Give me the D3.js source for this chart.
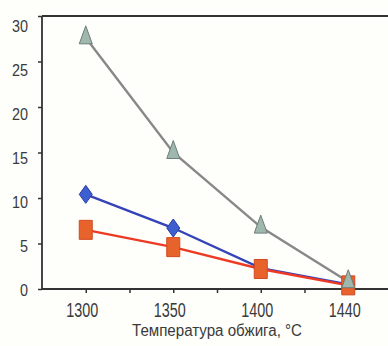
<!DOCTYPE html>
<html>
<head>
<meta charset="utf-8">
<script src="https://cdn.jsdelivr.net/npm/d3@7"></script>
<style>
  html, body { margin: 0; padding: 0; background: #fefefa; }
  svg { display: block; }
  text { font-family: "Liberation Sans", Arial, sans-serif; fill: #3a3a3a; }
</style>
</head>
<body>
<svg id="chart" width="388" height="346"></svg>
<script>
const categories = ["1300", "1350", "1400", "1440"];
const seriesGray = [27.6, 15.0, 6.8, 0.8];
const seriesBlue = [10.4, 6.7, 2.3, 0.5];
const seriesOrange = [6.5, 4.6, 2.2, 0.4];
const yTicks = [0, 5, 10, 15, 20, 25, 30];
const xTitle = "Температура обжига, °C";

const svg = d3.select("#chart");
const mLeft = 42, mRight = 392, mTop = 16, mBottom = 289;

const x = d3.scaleLinear().domain([-0.5, categories.length - 0.5]).range([mLeft, mRight]);
const y = d3.scaleLinear().domain([0, 30]).range([mBottom, mTop]);
// label positions in the reference drift slightly from the tick marks
const yLab = d3.scaleLinear().domain([0, 30]).range([290, 26]);

// Y axis tick marks
const gy = svg.append("g").attr("transform", `translate(${mLeft},0)`)
  .call(d3.axisLeft(y).tickValues(yTicks).tickSize(4).tickFormat(""));
gy.select(".domain").remove();
gy.selectAll(".tick line").attr("stroke", "#333").attr("stroke-width", 1.5);

// Y axis labels
const gyl = svg.append("g").attr("transform", `translate(${mLeft},0)`)
  .call(d3.axisLeft(yLab).tickValues(yTicks).tickSize(0).tickPadding(14).tickFormat(d3.format("d")));
gyl.select(".domain").remove();
gyl.selectAll(".tick line").remove();
gyl.selectAll(".tick text").style("font-size", "17px").attr("fill", "#3a3a3a")
  .attr("textLength", d => String(d).length * 8).attr("lengthAdjust", "spacingAndGlyphs");

// X axis major
const xAxis = d3.axisBottom(x).tickValues(d3.range(categories.length)).tickSize(4).tickPadding(10)
  .tickFormat(i => categories[i]);
const gx = svg.append("g").attr("transform", `translate(0,${mBottom})`).call(xAxis);
gx.select(".domain").remove();
gx.selectAll(".tick line").attr("stroke", "#333").attr("stroke-width", 1.5);
gx.selectAll(".tick text").style("font-size", "20px").attr("fill", "#3a3a3a")
  .attr("dx", -4)
  .attr("textLength", 32).attr("lengthAdjust", "spacingAndGlyphs");

// X axis minor ticks
const xMinor = d3.axisBottom(x).tickValues(d3.range(categories.length - 1).map(i => i + 0.5)).tickSize(4).tickFormat("");
const gxm = svg.append("g").attr("transform", `translate(0,${mBottom})`).call(xMinor);
gxm.select(".domain").remove();
gxm.selectAll(".tick line").attr("stroke", "#333").attr("stroke-width", 1.5);

// Frame lines
svg.append("line").attr("x1", mLeft).attr("x2", 388).attr("y1", mBottom).attr("y2", mBottom)
  .attr("stroke", "#333").attr("stroke-width", 1.8);
svg.append("line").attr("x1", mLeft).attr("x2", 388).attr("y1", mTop).attr("y2", mTop)
  .attr("stroke", "#333").attr("stroke-width", 1.8);
svg.append("line").attr("x1", mLeft).attr("x2", mLeft).attr("y1", mTop).attr("y2", mBottom)
  .attr("stroke", "#333").attr("stroke-width", 1.8);

// X title
svg.append("text").attr("x", 217).attr("y", 336).attr("text-anchor", "middle")
  .style("font-size", "16px")
  .attr("textLength", 170).attr("lengthAdjust", "spacingAndGlyphs")
  .text(xTitle);

const line = d3.line().x((d, i) => x(i)).y(d => y(d));

const series = [
  { values: seriesBlue, stroke: "#3443b8", fill: "#3d5fd0", mstroke: "#2a3aa8",
    shape: "M0,-9L6.5,0L0,9L-6.5,0Z" },
  { values: seriesOrange, stroke: "#ee3a24", fill: "#e8622c", mstroke: "#d24a20",
    shape: "M-6.5,-9.5L6.5,-9.5L6.5,9.5L-6.5,9.5Z" },
  { values: seriesGray, stroke: "#888888", fill: "#9fb8ae", mstroke: "#6f7c79",
    shape: "M0,-12L6.5,6L-6.5,6Z" }
];

series.forEach(s => {
  svg.append("path").datum(s.values).attr("d", line)
    .attr("fill", "none").attr("stroke", s.stroke).attr("stroke-width", 2.4);
});
series.forEach(s => {
  svg.append("g").selectAll("path").data(s.values).join("path")
    .attr("transform", (d, i) => `translate(${x(i)},${y(d)})`)
    .attr("d", s.shape)
    .attr("fill", s.fill).attr("stroke", s.mstroke).attr("stroke-width", 1);
});
</script>
</body>
</html>
